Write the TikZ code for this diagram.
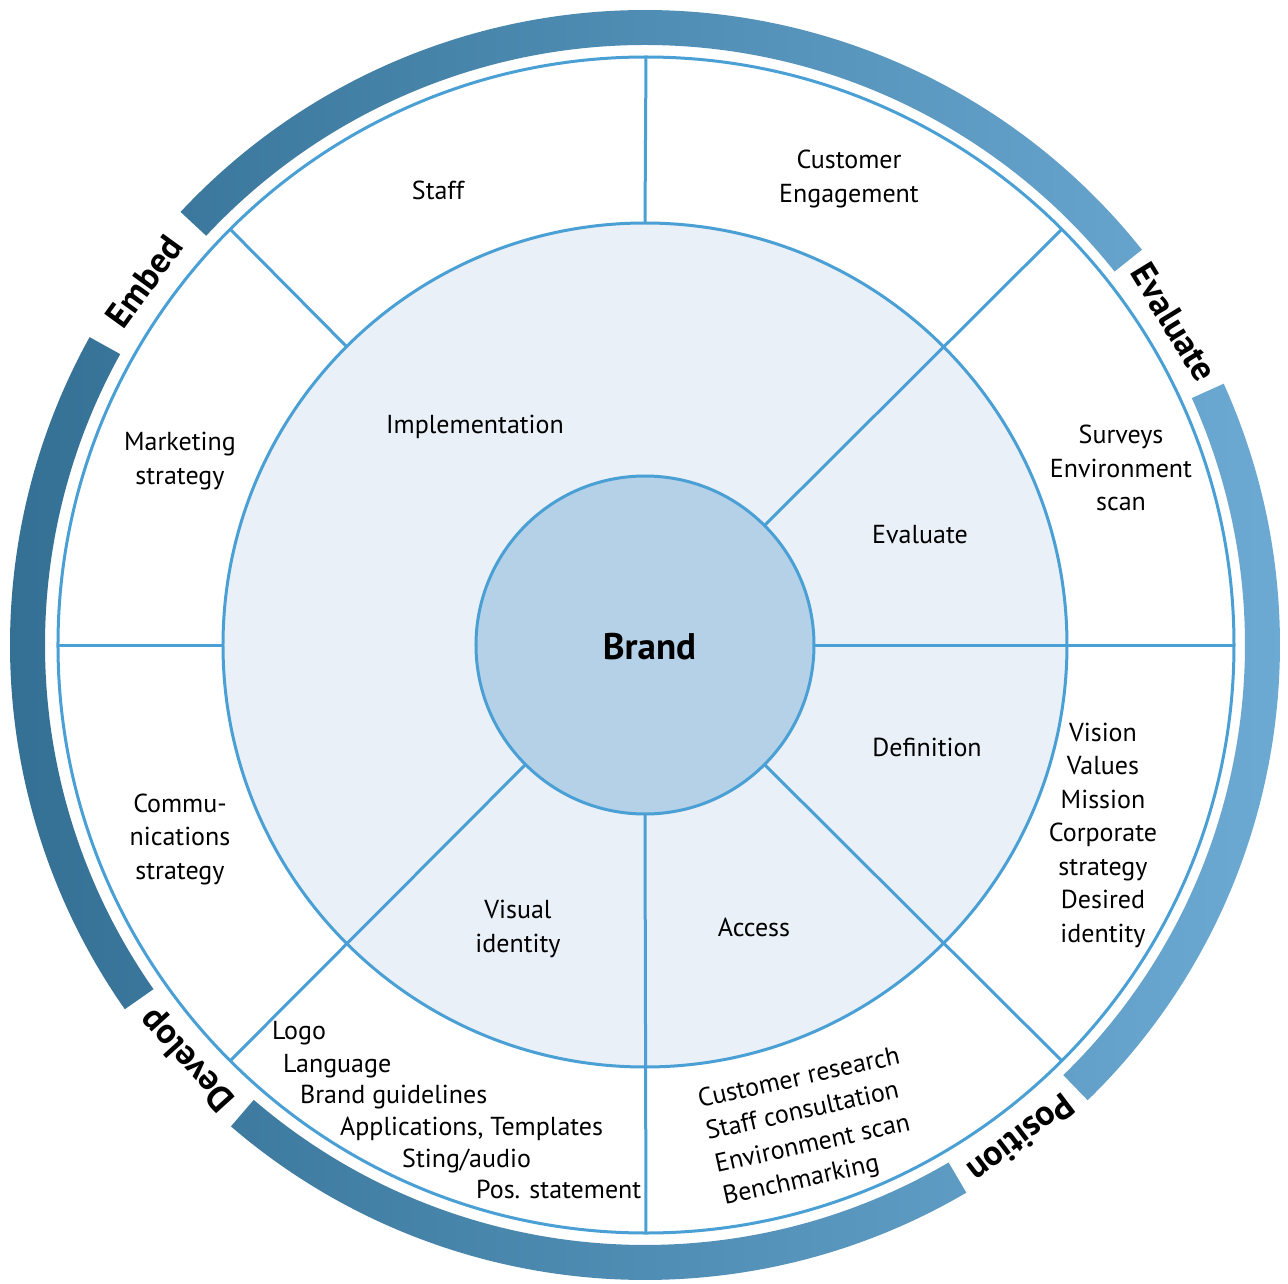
\documentclass[tikz,border=0pt]{standalone}
\usepackage{fontspec}
\setmainfont{PT Sans}
\definecolor{linec}{RGB}{74,160,212}
\definecolor{ringfill}{RGB}{233,240,248}
\definecolor{corefill}{RGB}{180,209,232}
\definecolor{bandL}{RGB}{52,112,148}
\definecolor{bandR}{RGB}{108,170,212}
\tikzset{
  lbl/.style={font=\fontsize{26}{33.5}\selectfont, align=center, inner sep=0pt},
  lst/.style={font=\fontsize{26}{32}\selectfont, anchor=base west, inner sep=0pt},
  bandlbl/.style={font=\fontsize{35.5}{42}\selectfont\bfseries, inner sep=0pt, text height=25pt, text depth=0pt},
  sepline/.style={draw=linec, line width=3pt},
  ring/.style={circle, draw=linec, line width=3pt, inner sep=0pt, outer sep=0pt}
}
\begin{document}
\begin{tikzpicture}[x=1pt,y=1pt]
\useasboundingbox (-645,-638) rectangle (643,645);
% outer gradient band
\begin{scope}
\clip (38.5:635) arc[start angle=38.5,end angle=137,radius=635] -- (137:600) arc[start angle=137,end angle=38.5,radius=600] -- cycle
      (151:635) arc[start angle=151,end angle=215,radius=635] -- (215:600) arc[start angle=215,end angle=151,radius=600] -- cycle
      (229.3:635) arc[start angle=229.3,end angle=300.4,radius=635] -- (300.4:600) arc[start angle=300.4,end angle=229.3,radius=600] -- cycle
      (314.2:635) arc[start angle=314.2,end angle=384.3,radius=635] -- (384.3:600) arc[start angle=384.3,end angle=314.2,radius=600] -- cycle;
\shade[left color=bandL, right color=bandR] (-640,-640) rectangle (640,640);
\end{scope}
% circles
\node[ring, fill=white, minimum size=1176pt] (outer) at (1,0) {};
\node[ring, fill=ringfill, minimum size=844pt] (mid) at (0,0) {};
\node[ring, fill=corefill, minimum size=338pt] (core) at (0,0) {};
% separators
\draw[sepline] (core.45) -- (outer.45);
\draw[sepline] (core.0) -- (outer.0);
\draw[sepline] (core.-45) -- (outer.-45);
\draw[sepline] (core.-90) -- (outer.-90);
\draw[sepline] (core.-135) -- (outer.-135);
\draw[sepline] (mid.90) -- (outer.90);
\draw[sepline] (mid.135) -- (outer.135);
\draw[sepline] (mid.180) -- (outer.180);
% centre
\node[font=\fontsize{37}{44}\selectfont\bfseries, inner sep=0pt] (brand) at (4.5,-1.5) {Brand};
% inner ring labels
\node[lbl] (impl) at (-170,218) {Implementation};
\node[lbl] (evalin) at (275,110) {Evaluate};
\node[lbl] (defn) at (282,-102) {Definition};
\node[lbl] (access) at (109,-282) {Access};
\node[lbl] (visual) at (-127,-284) {Visual\\identity};
% outer ring labels
\node[lbl] (staff) at (-207,455) {Staff};
\node[lbl] (custeng) at (204,466) {Customer\\Engagement};
\node[lbl] (mkt) at (-465,184) {Marketing\\strategy};
\node[lbl] (surveys) at (476,177) {Surveys\\Environment\\scan};
\node[lbl] (vision) at (458,-190) {Vision\\Values\\Mission\\Corporate\\strategy\\Desired\\identity};
\node[lbl] (comms) at (-465,-194) {Commu-\\nications\\strategy};
% develop list
\node[lst] (logo) at (-373,-394) {Logo};
\node[lst] (lang) at (-362,-427) {Language};
\node[lst] (guide) at (-345,-458) {Brand guidelines};
\node[lst] (apps) at (-305,-490) {Applications, Templates};
\node[lst] (sting) at (-243,-522) {Sting/audio};
\node[lst] (pos) at (-169,-553) {Pos. statement};
% access list
\node[lst, rotate=12.5] (custres) at (55,-463) {Customer research};
\node[lst, rotate=12.5] (staffcons) at (63,-495) {Staff consultation};
\node[lst, rotate=12.5] (envscan) at (72,-528) {Environment scan};
\node[lst, rotate=12.5] (bench) at (80,-560) {Benchmarking};
% band labels
\node[bandlbl, rotate=54] (embed) at (144:619) {Embed};
\node[bandlbl, rotate=-58.6] (evaluate) at (31.4:620) {Evaluate};
\node[bandlbl, rotate=-142.7] (position) at (-52.7:621) {Position};
\node[bandlbl, rotate=132.2] (develop) at (222.2:620) {Develop};
\end{tikzpicture}
\end{document}
